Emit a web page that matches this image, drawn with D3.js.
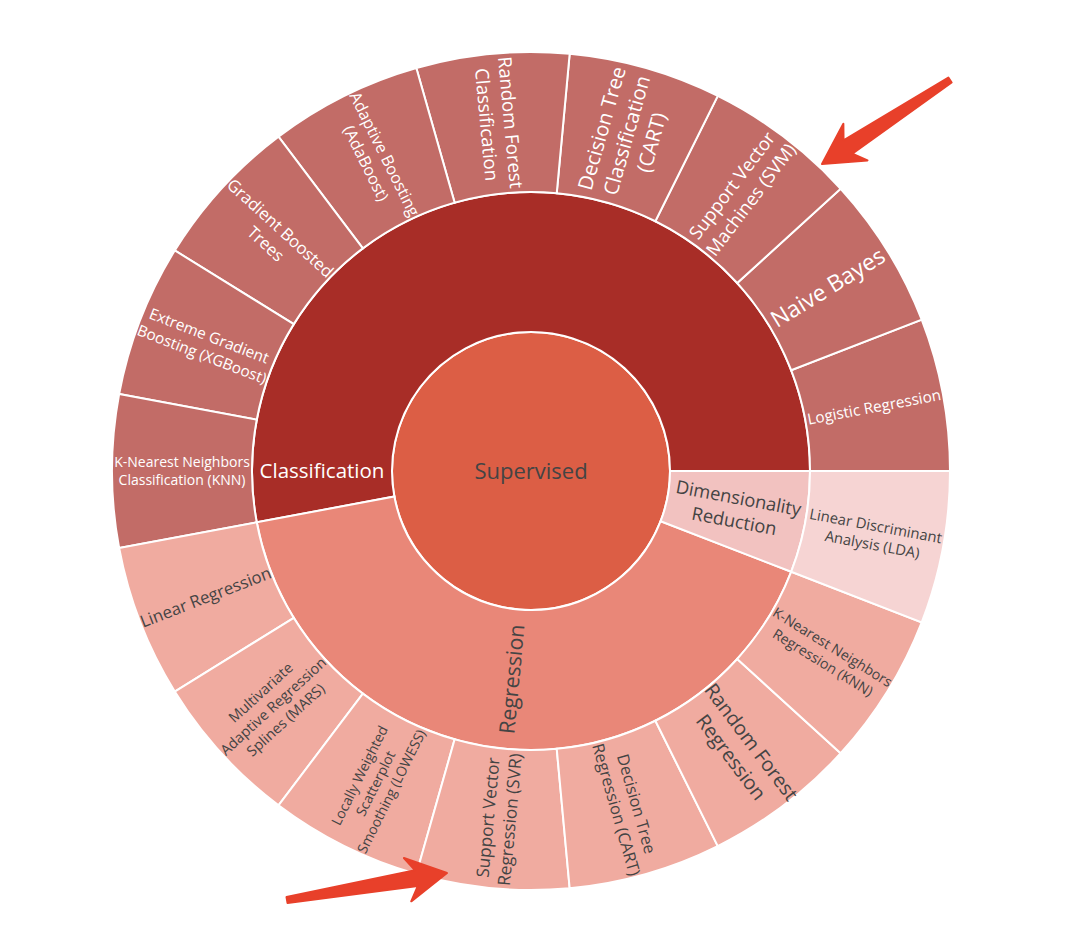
<!DOCTYPE html>
<html>
<head>
<meta charset="utf-8">
<script src="https://cdn.jsdelivr.net/npm/d3@7"></script>
<style>
  body { margin: 0; background: #ffffff; }
  svg { display: block; font-family: "Open Sans", "Noto Sans", sans-serif; }
</style>
</head>
<body>
<svg id="chart" width="1080" height="947"></svg>
<script>
// ---------------- DATA ----------------
const rootLabel = "Supervised";
const groupLabels = ["Classification", "Regression", "Dimensionality<br>Reduction"];

const classificationLeaves = [
  "Logistic Regression",
  "Naive Bayes",
  "Support Vector<br>Machines (SVM)",
  "Decision Tree<br>Classification<br>(CART)",
  "Random Forest<br>Classification",
  "Adaptive Boosting<br>(AdaBoost)",
  "Gradient Boosted<br>Trees",
  "Extreme Gradient<br>Boosting (XGBoost)",
  "K-Nearest Neighbors<br>Classification (KNN)"
];
const classificationValues = [1, 1, 1, 1, 1, 1, 1, 1, 1];

const regressionLeaves = [
  "Linear Regression",
  "Multivariate<br>Adaptive Regression<br>Splines (MARS)",
  "Locally Weighted<br>Scatterplot<br>Smoothing (LOWESS)",
  "Support Vector<br>Regression (SVR)",
  "Decision Tree<br>Regression (CART)",
  "Random Forest<br>Regression",
  "K-Nearest Neighbors<br>Regression (KNN)"
];
const regressionValues = [1, 1, 1, 1, 1, 1, 1];

const dimReductionLeaves = ["Linear Discriminant<br>Analysis (LDA)"];
const dimReductionValues = [1];

// ---------------- STYLE ----------------
const rootColor = "#DC5E45";
const groupColors = ["#A82D27", "#E98778", "#F2C2C0"];
const groupTextColors = ["#ffffff", "#444444", "#444444"];
const leafOpacity = 0.7;

const fontSizes = {
  "Supervised": 22,
  "Classification": 20.5,
  "Regression": 21.5,
  "Dimensionality<br>Reduction": 18.3,
  "Logistic Regression": 15.3,
  "Naive Bayes": 23,
  "Support Vector<br>Machines (SVM)": 18.4,
  "Decision Tree<br>Classification<br>(CART)": 20.2,
  "Random Forest<br>Classification": 18.6,
  "Adaptive Boosting<br>(AdaBoost)": 16.2,
  "Gradient Boosted<br>Trees": 16.7,
  "Extreme Gradient<br>Boosting (XGBoost)": 15.4,
  "K-Nearest Neighbors<br>Classification (KNN)": 14,
  "Linear Regression": 16.8,
  "Multivariate<br>Adaptive Regression<br>Splines (MARS)": 14.5,
  "Locally Weighted<br>Scatterplot<br>Smoothing (LOWESS)": 13.9,
  "Support Vector<br>Regression (SVR)": 17.2,
  "Decision Tree<br>Regression (CART)": 16.3,
  "Random Forest<br>Regression": 19.8,
  "K-Nearest Neighbors<br>Regression (KNN)": 14.2,
  "Linear Discriminant<br>Analysis (LDA)": 14.8
};
// label placement overrides (angle in degrees ccw from 3 o'clock, rotation)
const labelOverrides = {
  "Classification": { angle: 180, rotate: 0 }
};

// ---------------- BUILD ----------------
const leafSets = [
  [classificationLeaves, classificationValues],
  [regressionLeaves, regressionValues],
  [dimReductionLeaves, dimReductionValues]
];
const treeData = {
  name: rootLabel,
  children: groupLabels.map((g, i) => ({
    name: g,
    gi: i,
    children: leafSets[i][0].map((l, j) => ({ name: l, gi: i, value: leafSets[i][1][j] }))
  }))
};

const cx = 531, cy = 471;
const radius = d3.scaleLinear().domain([0, 1, 2, 3]).range([0, 139, 279, 419]);

const root = d3.hierarchy(treeData).sum(d => d.value || 0);
d3.partition().size([2 * Math.PI, 3])(root);

const svg = d3.select("#chart");
const g = svg.append("g").attr("transform", `translate(${cx},${cy})`);

// angles: partition x is ccw from 3 o'clock; d3.arc is cw from 12 o'clock
const arc = d3.arc()
  .startAngle(d => Math.PI / 2 - d.x1)
  .endAngle(d => Math.PI / 2 - d.x0)
  .innerRadius(d => radius(d.y0))
  .outerRadius(d => radius(d.y1));

const nodes = root.descendants();

function fillOf(d) {
  if (d.depth === 0) return rootColor;
  return groupColors[d.data.gi];
}

g.selectAll("path.seg")
  .data(nodes)
  .join("path")
  .attr("class", "seg")
  .attr("d", arc)
  .attr("fill", fillOf)
  .attr("fill-opacity", d => d.depth === 2 ? leafOpacity : 1)
  .attr("stroke", "#ffffff")
  .attr("stroke-width", 2);

// labels
const labels = g.selectAll("text.lbl")
  .data(nodes)
  .join("text")
  .attr("class", "lbl")
  .attr("text-anchor", "middle")
  .attr("fill", d => d.depth === 0 ? "#444444" : groupTextColors[d.data.gi])
  .style("font-size", d => (fontSizes[d.data.name] || 14) + "px")
  .attr("transform", d => {
    if (d.depth === 0) return "translate(0,0)";
    const ov = labelOverrides[d.data.name];
    let theta = (d.x0 + d.x1) / 2;
    if (ov) theta = ov.angle * Math.PI / 180;
    const r = (radius(d.y0) + radius(d.y1)) / 2;
    const x = r * Math.cos(theta);
    const y = -r * Math.sin(theta);
    const deg = theta * 180 / Math.PI;
    let rot = Math.cos(theta) > 0 ? -deg : 180 - deg;
    if (ov) rot = ov.rotate;
    return `translate(${x},${y}) rotate(${rot})`;
  });

labels.each(function (d) {
  const lines = d.data.name.split("<br>");
  const fs = fontSizes[d.data.name] || 14;
  const lh = fs * 1.28;
  const t = d3.select(this);
  lines.forEach((ln, i) => {
    t.append("tspan")
      .attr("x", 0)
      .attr("y", (i - (lines.length - 1) / 2) * lh + fs * 0.36)
      .text(ln);
  });
});

// ---------------- ARROW ANNOTATIONS ----------------
const arrows = [
  { tail: [950, 80], tip: [822, 164] },
  { tail: [287, 900], tip: [447, 873] }
];
function arrowPath(a) {
  const [tx, ty] = a.tail, [px, py] = a.tip;
  const L = Math.hypot(tx - px, ty - py);
  const ux = (tx - px) / L, uy = (ty - py) / L;
  const nx = -uy, ny = ux;
  const P = (along, side) => [px + ux * along + nx * side, py + uy * along + ny * side];
  const pts = [
    P(0, 0),
    P(40, 22),
    P(31, 8),
    P(L, 3),
    P(L, -3),
    P(31, -8),
    P(40, -22)
  ];
  return "M" + pts.map(p => p.join(",")).join("L") + "Z";
}
svg.selectAll("path.arrow")
  .data(arrows)
  .join("path")
  .attr("class", "arrow")
  .attr("d", arrowPath)
  .attr("fill", "#E8402A")
  .attr("stroke", "#E8402A")
  .attr("stroke-width", 2)
  .attr("stroke-linejoin", "round");
</script>
</body>
</html>
